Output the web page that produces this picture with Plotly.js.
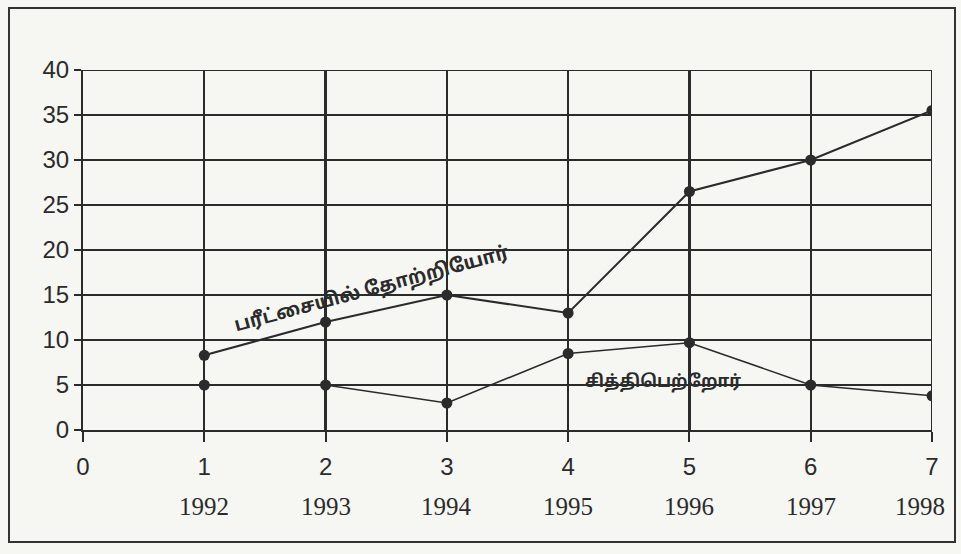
<!DOCTYPE html>
<html>
<head>
<meta charset="utf-8">
<script src="https://cdn.plot.ly/plotly-3.0.1.min.js"></script>
<style>
  html, body { margin: 0; padding: 0; background: #f6f6f3; }
  #wrap { position: relative; width: 961px; height: 554px; overflow: hidden; }
  #chart { position: absolute; left: 0; top: 0; width: 961px; height: 554px; }
  #frame { position: absolute; left: 8px; top: 7px; width: 948px; height: 536px;
           border: 2px solid #333; box-sizing: border-box; pointer-events: none; }
</style>
</head>
<body>
<div id="wrap">
  <div id="chart"></div>
  <div id="frame"></div>
</div>
<script>
// ---- data ----
const xValues = [1, 2, 3, 4, 5, 6, 7];
const years = ["1992", "1993", "1994", "1995", "1996", "1997", "1998"];
const appeared = [8.3, 12, 15, 13, 26.5, 30, 35.5];
const passed = [5, 5, 3, 8.5, 9.7, 5, 3.8];
const appearedLabel = "பரீட்சையில் தோற்றியோர்";
const passedLabel = "சித்திபெற்றோர்";
const yTicks = [0, 5, 10, 15, 20, 25, 30, 35, 40];

const numFont = "Liberation Sans, Arial, sans-serif";
const yearFont = "Liberation Serif, Times New Roman, serif";
const tamilFont = "Noto Sans Tamil, Lohit Tamil, Noto Sans, sans-serif";
const ink = "#2b2b2b";

const xTickVals = [0].concat(xValues);
const xTickText = ["0"].concat(xValues.map(String));

const traces = [
  { x: xValues, y: appeared, mode: "lines+markers", name: appearedLabel,
    line: { color: ink, width: 2 }, marker: { color: ink, size: 11 } },
  { x: xValues, y: passed, mode: "lines+markers", name: passedLabel,
    line: { color: ink, width: 1.6 }, marker: { color: ink, size: 11 } }
];

const yearAnnotations = xValues.map((v, i) => ({
  x: v, y: 0, xref: "x", yref: "y", text: years[i], showarrow: false,
  yanchor: "middle", yshift: -76, xshift: (i === xValues.length - 1 ? -12 : 0),
  font: { family: yearFont, size: 25, color: ink }
}));

const layout = {
  width: 961, height: 554,
  paper_bgcolor: "rgba(0,0,0,0)", plot_bgcolor: "rgba(0,0,0,0)",
  showlegend: false,
  margin: { l: 83, r: 29, t: 70, b: 124 },
  xaxis: {
    range: [0, 7], tickvals: xTickVals, ticktext: xTickText,
    showgrid: true, gridcolor: ink, gridwidth: 2.2,
    zeroline: false, showline: true, linecolor: ink, linewidth: 2,
    ticks: "outside", ticklen: 10, tickcolor: ink, tickwidth: 2,
    ticklabelstandoff: 4,
    tickfont: { family: numFont, size: 24, color: ink },
    fixedrange: true
  },
  yaxis: {
    range: [0, 40], tickvals: yTicks,
    showgrid: true, gridcolor: ink, gridwidth: 2.2,
    zeroline: false, showline: true, linecolor: ink, linewidth: 2,
    ticks: "outside", ticklen: 7, tickcolor: ink, tickwidth: 1.5,
    tickfont: { family: numFont, size: 24, color: ink },
    fixedrange: true
  },
  shapes: [
    { type: "line", xref: "x", yref: "y", x0: 0, x1: 7, y0: 40, y1: 40, line: { color: ink, width: 2 } },
    { type: "line", xref: "x", yref: "y", x0: 7, x1: 7, y0: 0, y1: 40, line: { color: ink, width: 2 } }
  ],
  annotations: [
    { x: 2.38, y: 15.6, xref: "x", yref: "y", text: "<b>" + appearedLabel + "</b>", showarrow: false,
      textangle: -15, font: { family: tamilFont, size: 19, color: ink } },
    { x: 4.78, y: 5.3, xref: "x", yref: "y", text: "<b>" + passedLabel + "</b>", showarrow: false,
      font: { family: tamilFont, size: 17, color: ink } }
  ].concat(yearAnnotations)
};

Plotly.newPlot("chart", traces, layout, { displayModeBar: false, staticPlot: true });
</script>
</body>
</html>
